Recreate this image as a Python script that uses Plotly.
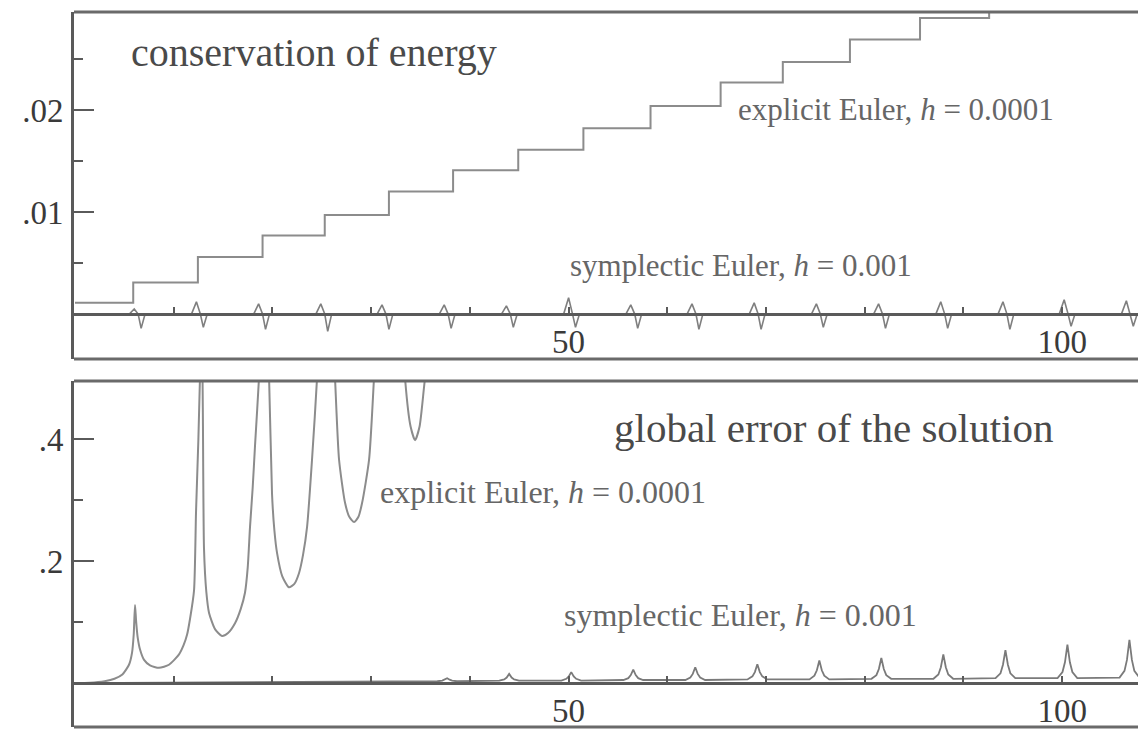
import plotly.graph_objects as go

# ---------------- data ----------------
# top panel: energy error
exp_energy_t = [0.0, 5.9, 12.45, 19.0, 25.3, 31.8, 38.3, 44.9, 51.5, 58.3, 65.4, 71.7, 78.5, 85.6, 92.6, 109.5]
exp_energy_v = [0.0011, 0.0031, 0.0056, 0.0077, 0.0097, 0.0120, 0.0141, 0.0161, 0.0182, 0.0204,
                0.0227, 0.0247, 0.0269, 0.0290, 0.0312, 0.0312]

sym_energy_t = [0.0,
                5.5, 6.0, 6.4, 6.7, 7.1,
                11.8, 12.3, 12.7, 13.0, 13.4,
                18.1, 18.6, 19.0, 19.3, 19.7,
                24.4, 24.9, 25.3, 25.6, 26.0,
                30.6, 31.1, 31.5, 31.8, 32.2,
                36.9, 37.4, 37.8, 38.1, 38.5,
                43.2, 43.7, 44.1, 44.4, 44.8,
                49.5, 50.0, 50.4, 50.7, 51.1,
                55.8, 56.3, 56.7, 57.0, 57.4,
                62.0, 62.5, 62.9, 63.2, 63.6,
                68.3, 68.8, 69.2, 69.5, 69.9,
                74.6, 75.1, 75.5, 75.8, 76.2,
                80.9, 81.4, 81.8, 82.1, 82.5,
                87.2, 87.7, 88.1, 88.4, 88.8,
                93.5, 94.0, 94.4, 94.7, 95.1,
                99.7, 100.2, 100.6, 100.9, 101.3,
                106.0, 106.5, 106.9, 107.2, 107.6,
                109.5]
sym_energy_v = [0.0,
                0, 0.0005, 0, -0.0014, 0,
                0, 0.0012, 0, -0.0013, 0,
                0, 0.0010, 0, -0.0015, 0,
                0, 0.0010, 0, -0.0017, 0,
                0, 0.0009, 0, -0.0015, 0,
                0, 0.0009, 0, -0.0014, 0,
                0, 0.0008, 0, -0.0013, 0,
                0, 0.0016, 0, -0.0013, 0,
                0, 0.0009, 0, -0.0014, 0,
                0, 0.0010, 0, -0.0015, 0,
                0, 0.0011, 0, -0.0015, 0,
                0, 0.0010, 0, -0.0013, 0,
                0, 0.0010, 0, -0.0014, 0,
                0, 0.0012, 0, -0.0014, 0,
                0, 0.0012, 0, -0.0015, 0,
                0, 0.0014, 0, -0.0012, 0,
                0, 0.0013, 0, -0.0012, 0,
                0.0]

# bottom panel: global error
exp_err_t = [0, 1.5, 3.0, 4.0, 4.8, 5.47, 5.78, 5.95, 6.08, 6.2, 6.35, 6.59, 7.0, 7.6, 8.51,
             9.52, 10.54, 11.0, 11.35, 11.65, 12.06, 12.26, 12.5, 12.66, 12.85, 12.95, 13.07,
             13.3, 13.58, 14.2, 14.89, 15.5, 16.21, 16.8, 17.22, 17.5, 17.73, 18.0, 18.24,
             18.64, 19.15, 19.66, 19.96, 20.2, 20.47, 21.0, 21.68, 22.2, 22.69, 23.1, 23.51,
             24.01, 24.52, 25.4, 26.34, 26.75, 27.36, 27.8, 28.27, 28.7, 29.08, 29.79, 30.29,
             31.9, 33.43, 34.0, 34.45, 34.9, 35.46, 37.5, 45, 60, 80, 109.5]
exp_err_v = [0, 0.0005, 0.003, 0.007, 0.014, 0.030, 0.05, 0.08, 0.128, 0.10, 0.075, 0.055,
             0.038, 0.029, 0.025, 0.030, 0.047, 0.062, 0.079, 0.105, 0.152, 0.28, 0.40, 0.50,
             0.58, 0.45, 0.22, 0.15, 0.115, 0.088, 0.077, 0.082, 0.098, 0.122, 0.148, 0.19,
             0.256, 0.32, 0.39, 0.50, 0.70, 0.50, 0.31, 0.25, 0.213, 0.175, 0.157, 0.162, 0.18,
             0.21, 0.256, 0.366, 0.50, 0.85, 0.50, 0.366, 0.295, 0.272, 0.264, 0.272, 0.295,
             0.366, 0.50, 1.0, 0.50, 0.42, 0.398, 0.42, 0.50, 0.75, 1.0, 1.4, 1.8, 2.4]

sym_err_t = [0, 30,
             36.7, 37.2, 37.45, 37.7, 37.95, 38.2, 38.7,
             42.98, 43.48, 43.73, 43.98, 44.23, 44.48, 44.98,
             49.27, 49.77, 50.02, 50.27, 50.52, 50.77, 51.27,
             55.55, 56.05, 56.30, 56.55, 56.80, 57.05, 57.55,
             61.83, 62.33, 62.58, 62.83, 63.08, 63.33, 63.83,
             68.12, 68.62, 68.87, 69.12, 69.37, 69.62, 70.12,
             74.40, 74.90, 75.15, 75.40, 75.65, 75.90, 76.40,
             80.68, 81.18, 81.43, 81.68, 81.93, 82.18, 82.68,
             86.96, 87.46, 87.71, 87.96, 88.21, 88.46, 88.96,
             93.25, 93.75, 94.00, 94.25, 94.50, 94.75, 95.25,
             99.53, 100.03, 100.28, 100.53, 100.78, 101.03, 101.53,
             105.81, 106.31, 106.56, 106.81, 107.06, 107.31, 107.81,
             109.5]
sym_err_v = [0, 0.002,
             0.003, 0.004, 0.0055, 0.008, 0.0055, 0.004, 0.003,
             0.004, 0.006, 0.009, 0.015, 0.009, 0.006, 0.004,
             0.004, 0.007, 0.011, 0.018, 0.011, 0.007, 0.004,
             0.005, 0.008, 0.013, 0.022, 0.013, 0.008, 0.005,
             0.005, 0.009, 0.015, 0.026, 0.015, 0.009, 0.005,
             0.006, 0.011, 0.018, 0.031, 0.018, 0.011, 0.006,
             0.006, 0.012, 0.021, 0.037, 0.021, 0.012, 0.006,
             0.007, 0.013, 0.023, 0.041, 0.023, 0.013, 0.007,
             0.007, 0.014, 0.026, 0.047, 0.026, 0.014, 0.007,
             0.008, 0.016, 0.030, 0.054, 0.030, 0.016, 0.008,
             0.008, 0.018, 0.034, 0.063, 0.034, 0.018, 0.008,
             0.009, 0.020, 0.038, 0.071, 0.038, 0.020, 0.009,
             0.009]

x_tickvals = [10, 20, 30, 40, 50, 60, 70, 80, 90, 100]
x_ticktext = ["", "", "", "", "50", "", "", "", "", "100"]
top_yticks = [0.01, 0.02]
top_ylabels = [".01", ".02"]
top_yminor = [0.005, 0.015, 0.025]
bot_yticks = [0.2, 0.4]
bot_ylabels = [".2", ".4"]
bot_yminor = [0.1, 0.3]

# ---------------- figure ----------------
FONT = "Liberation Serif"
CURVE = "#8c8c8c"
AXC = "#5a5a5a"

fig = go.Figure()
fig.add_trace(go.Scatter(x=exp_energy_t, y=exp_energy_v, mode="lines", line_shape="hv",
                         line=dict(color=CURVE, width=2), xaxis="x", yaxis="y", showlegend=False))
fig.add_trace(go.Scatter(x=sym_energy_t, y=sym_energy_v, mode="lines",
                         line=dict(color="#7f7f7f", width=1.6), xaxis="x", yaxis="y", showlegend=False))
fig.add_trace(go.Scatter(x=exp_err_t, y=exp_err_v, mode="lines", line_shape="spline",
                         line=dict(color=CURVE, width=2, smoothing=0.6), xaxis="x2", yaxis="y2",
                         showlegend=False))
fig.add_trace(go.Scatter(x=sym_err_t, y=sym_err_v, mode="lines",
                         line=dict(color="#7a7a7a", width=1.8), xaxis="x2", yaxis="y2", showlegend=False))

xcommon = dict(range=[-0.1, 109.3], showgrid=False, zeroline=False, showline=True,
               linecolor=AXC, linewidth=3, ticks="inside", ticklen=6, tickwidth=2, tickcolor=AXC,
               tickvals=x_tickvals, ticktext=x_ticktext, anchor="free",
               tickfont=dict(family=FONT, size=33, color="#3a3a3a"), ticklabelstandoff=-3)
ycommon = dict(showgrid=False, zeroline=False, showline=True, linecolor=AXC, linewidth=3,
               ticks="inside", ticklen=20, tickwidth=2, tickcolor=AXC,
               tickfont=dict(family=FONT, size=33, color="#3a3a3a"), ticklabelstandoff=1)

fig.update_layout(
    width=1146, height=730,
    margin=dict(l=66, r=0, t=4, b=11),
    paper_bgcolor="white", plot_bgcolor="white",
    xaxis=dict(**xcommon, domain=[0, 1], position=0.5776),
    yaxis=dict(**ycommon, domain=[0.5147, 1.0], anchor="x", range=[-0.0044, 0.0296],
               tickvals=top_yticks, ticktext=top_ylabels,
               minor=dict(tickvals=top_yminor, ticks="inside", ticklen=9, tickwidth=2, tickcolor=AXC)),
    xaxis2=dict(**xcommon, domain=[0, 1], position=0.0615),
    yaxis2=dict(**ycommon, domain=[0.0, 0.4839], anchor="x2", range=[-0.072, 0.495],
                tickvals=bot_yticks, ticktext=bot_ylabels,
                minor=dict(tickvals=bot_yminor, ticks="inside", ticklen=9, tickwidth=2, tickcolor=AXC)),
)

# frame lines (top & bottom of each panel; right side is cut off in the original)
for ya in ["y", "y2"]:
    for yy in [0, 1]:
        fig.add_shape(type="line", xref="x domain" if ya == "y" else "x2 domain",
                      yref=f"{ya} domain", x0=0, x1=1, y0=yy, y1=yy,
                      line=dict(color="#6a6a6a", width=3), layer="above")

def label(text, x, y, ax, size, color="#555555"):
    fig.add_annotation(text=text, x=x, y=y, xref=ax[0], yref=ax[1], showarrow=False,
                       xanchor="left", yanchor="middle",
                       font=dict(family=FONT, size=size, color=color))

label("conservation of energy", 5.5, 0.0256, ("x", "y"), 40, "#4a4a4a")
label("explicit Euler, <i>h</i> = 0.0001", 67.0, 0.0200, ("x", "y"), 31, "#666666")
label("symplectic Euler, <i>h</i> = 0.001", 49.9, 0.0048, ("x", "y"), 31, "#666666")
label("global error of the solution", 54.4, 0.418, ("x2", "y2"), 41, "#4a4a4a")
label("explicit Euler, <i>h</i> = 0.0001", 30.7, 0.313, ("x2", "y2"), 32, "#666666")
label("symplectic Euler, <i>h</i> = 0.001", 49.3, 0.111, ("x2", "y2"), 32, "#666666")

fig.write_html("out.html")
